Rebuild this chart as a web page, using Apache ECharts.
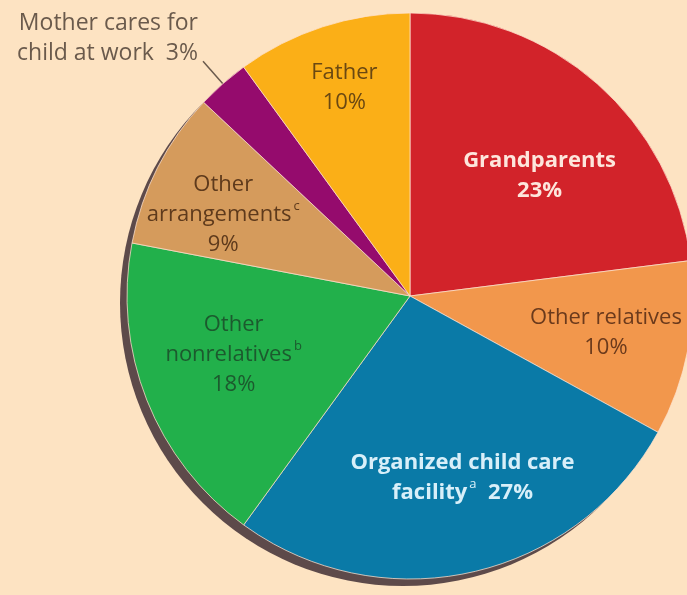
<!DOCTYPE html>
<html>
<head>
<meta charset="utf-8">
<script src="https://cdn.jsdelivr.net/npm/echarts@6/dist/echarts.min.js"></script>
<style>
html,body{margin:0;padding:0;background:#fde3c2;}
#chart{width:687px;height:595px;}
</style>
</head>
<body>
<div id="chart"></div>
<script>
// ---- data ----
const categories = ['Grandparents', 'Other relatives', 'Organized child care facility', 'Other nonrelatives', 'Other arrangements', 'Mother cares for child at work', 'Father'];
const values = [23, 10, 27, 18, 9, 3, 10];
// label text (before the percentage)
const labelText = ['Grandparents\n', 'Other relatives\n', 'Organized child care\nfacility{sup|a}  ', 'Other\nnonrelatives{sup|b}\n', 'Other\narrangements{sup|c}\n', 'Mother cares for\nchild at work  ', 'Father\n'];

// ---- styles ----
const colors = ['#d2232a', '#f2974c', '#0a7aa7', '#22b04b', '#d59b5c', '#950b6d', '#fbaf17'];
const textColors = ['#fde6dc', '#6b3a1c', '#d8eff9', '#1c5a2e', '#5e3a1c', '#6a5a4c', '#6a4812'];
const labelShift = [[34, -12], [54, 10], [21, 41], [-42, 6], [-58, -16], null, [-21, -71]];

const chart = echarts.init(document.getElementById('chart'), null, {renderer: 'canvas'});
const FONT = '"Open Sans", "Noto Sans", sans-serif';

const data = categories.map((c, i) => {
  const isOutside = i === 5;
  return {
    name: c,
    value: values[i],
    itemStyle: {color: colors[i]},
    label: {
      show: true,
      position: isOutside ? 'outside' : 'inside',
      color: textColors[i],
      fontFamily: FONT,
      fontSize: isOutside ? 23 : 22,
      fontWeight: (i === 0 || i === 2) ? 'bold' : 'normal',
      lineHeight: 30,
      align: isOutside ? 'right' : 'center',
      padding: isOutside ? [0, 0, 45, 0] : 0,
      formatter: () => labelText[i] + values[i] + '%',
      rich: {
        sup: {
          fontSize: 13,
          fontFamily: FONT,
          color: textColors[i],
          fontWeight: 'normal',
          verticalAlign: 'top',
          lineHeight: 30,
          padding: [0, 0, 12, 2]
        }
      }
    },
    labelLine: isOutside ? {show: true, length: 30, length2: 0, lineStyle: {color: '#6a5a4c', width: 1.5}} : {show: false}
  };
});

chart.setOption({
  backgroundColor: '#fde3c2',
  animation: false,
  series: [
    {
      type: 'pie',
      silent: true,
      center: [403, 303],
      radius: 283,
      z: 1,
      label: {show: false},
      labelLine: {show: false},
      itemStyle: {color: '#5d4a4a'},
      data: [{value: 1}]
    },
    {
      type: 'pie',
      center: [410, 296],
      radius: 283,
      startAngle: 90,
      clockwise: true,
      z: 2,
      avoidLabelOverlap: false,
      itemStyle: {borderColor: 'rgba(255,225,205,0.75)', borderWidth: 1},
      labelLayout: function (params) {
        const s = labelShift[params.dataIndex];
        if (!s) return {};
        return {dx: s[0], dy: s[1]};
      },
      data: data
    }
  ]
});
</script>
</body>
</html>
